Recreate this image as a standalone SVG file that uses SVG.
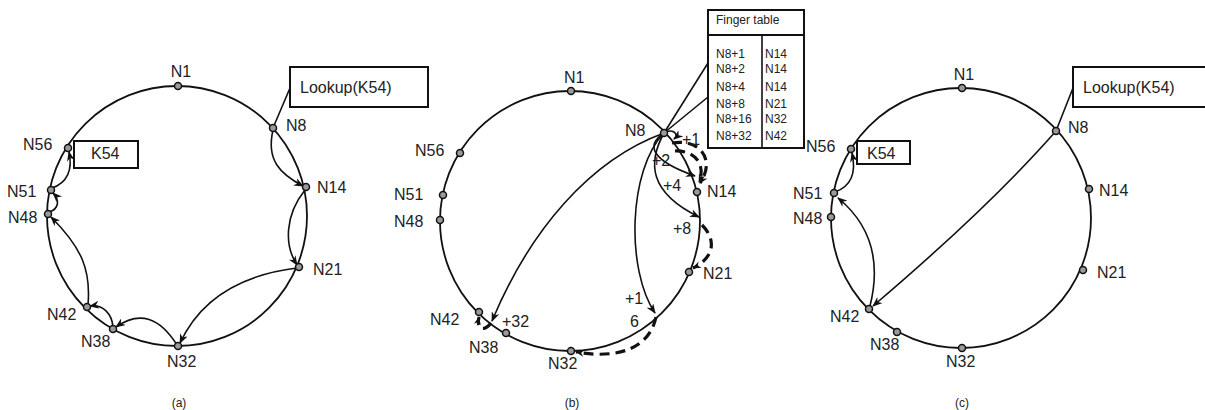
<svg xmlns="http://www.w3.org/2000/svg" width="1205" height="410" viewBox="0 0 1205 410">
<style>
.ring{fill:none;stroke:#111;stroke-width:1.8}
.node{fill:#9a9a9a;stroke:#111;stroke-width:1.5}
.lbl{font-family:"Liberation Sans",Arial,sans-serif;font-size:16px;fill:#222}
.cap{font-family:"Liberation Sans",Arial,sans-serif;font-size:12px;fill:#222}
.sm{font-family:"Liberation Sans",Arial,sans-serif;font-size:12px;fill:#222}
.box{fill:#fff;stroke:#111;stroke-width:2}
.arr{fill:none;stroke:#111;stroke-width:1.6;marker-end:url(#ah)}
.ln{fill:none;stroke:#111;stroke-width:1.6}
.dash{fill:none;stroke:#111;stroke-width:3.2;stroke-dasharray:10 6}
.dasharr{fill:none;stroke:#111;stroke-width:3.2;stroke-dasharray:10 6;marker-end:url(#ah2)}
</style>
<defs>
<marker id="ah" viewBox="0 0 10 8" refX="9" refY="4" markerWidth="10" markerHeight="8" markerUnits="userSpaceOnUse" orient="auto">
<path d="M0,0 L10,4 L0,8 L3,4 Z" fill="#111"/>
</marker>
<marker id="ah2" viewBox="0 0 10 8" refX="9" refY="4" markerWidth="9" markerHeight="7" markerUnits="userSpaceOnUse" orient="auto">
<path d="M0,0 L10,4 L0,8 L3,4 Z" fill="#111"/>
</marker>
</defs>

<!-- Panel (a) -->
<g id="panel-a">
<circle class="ring" cx="177" cy="216" r="130"/>
<g id="a-connectors">
<line class="ln" x1="290" y1="88" x2="273" y2="128"/>
<path class="arr" d="M273,130 C266,160 280,174 303,186"/>
<path class="arr" d="M305,190 C285,215 284,245 297,265"/>
<path class="arr" d="M297,268 C240,275 200,300 180,343"/>
<path class="arr" d="M177,345 C160,318 140,310 116,327"/>
<path class="arr" d="M113,327 C112,314 103,304 90,306"/>
<path class="arr" d="M88,305 C91,270 82,248 51,217"/>
<path class="arr" d="M49,212 C59,209 60,200 53,193"/>
<path class="arr" d="M52,188 C67,183 73,170 69,152"/>
</g>
<g id="a-lookup"><rect class="box" x="290" y="67" width="138" height="40"/><text class="lbl" x="300" y="93">Lookup(K54)</text></g>
<g id="a-k54"><rect class="box" x="74" y="141" width="64" height="27"/><text class="lbl" x="91" y="159">K54</text></g>
<g id="a-N1"><circle class="node" cx="178" cy="86" r="3.5"/><text class="lbl" x="181" y="77" text-anchor="middle">N1</text></g>
<g id="a-N8"><circle class="node" cx="273" cy="128" r="3.5"/><text class="lbl" x="286" y="131">N8</text></g>
<g id="a-N14"><circle class="node" cx="306" cy="187" r="3.5"/><text class="lbl" x="317" y="193">N14</text></g>
<g id="a-N21"><circle class="node" cx="299" cy="267" r="3.5"/><text class="lbl" x="313" y="275">N21</text></g>
<g id="a-N32"><circle class="node" cx="178" cy="346" r="3.5"/><text class="lbl" x="167" y="367">N32</text></g>
<g id="a-N38"><circle class="node" cx="113" cy="329" r="3.5"/><text class="lbl" x="81" y="347">N38</text></g>
<g id="a-N42"><circle class="node" cx="87" cy="307" r="3.5"/><text class="lbl" x="47" y="320">N42</text></g>
<g id="a-N48"><circle class="node" cx="48" cy="214" r="3.5"/><text class="lbl" x="8" y="223">N48</text></g>
<g id="a-N51"><circle class="node" cx="51" cy="190" r="3.5"/><text class="lbl" x="7" y="197">N51</text></g>
<g id="a-N56"><circle class="node" cx="68" cy="148" r="3.5"/><text class="lbl" x="23" y="150">N56</text></g>
<text class="cap" x="179" y="407" text-anchor="middle">(a)</text>
</g>

<!-- Panel (b) -->
<g id="panel-b">
<circle class="ring" cx="570" cy="221" r="130"/>
<g id="b-connectors">
<line class="ln" x1="664" y1="133" x2="708" y2="63"/>
<line class="ln" x1="664" y1="133" x2="708" y2="97"/>
<path class="arr" d="M664,133 C672,128 680,134 674,139"/>
<path class="arr" d="M664,133 C646,145 650,160 695,176"/>
<path class="arr" d="M664,133 C648,162 648,192 699,217"/>
<path class="arr" d="M664,133 C628,170 626,270 655,313"/>
<path class="arr" d="M664,133 C590,160 530,230 492,321"/>
<path class="dasharr" d="M672,143 C700,138 716,160 700,183"/>
<path class="dasharr" d="M675,151 C696,150 706,166 699,182"/>
<path class="dasharr" d="M702,225 C717,240 714,258 693,268"/>
<path class="dasharr" d="M656,317 C650,346 622,360 576,352"/>
<path class="dasharr" d="M491,323 C484,332 476,330 479,317"/>
</g>
<g id="b-finger">
<rect class="box" x="708" y="10" width="96" height="138"/>
<line class="ln" x1="708" y1="35" x2="804" y2="35" style="stroke-width:2"/>
<line class="ln" x1="762" y1="34" x2="762" y2="148"/>
<text class="sm" x="716" y="24">Finger table</text>
<text class="sm" x="716" y="58">N8+1</text><text class="sm" x="765" y="58">N14</text>
<text class="sm" x="716" y="73">N8+2</text><text class="sm" x="765" y="73">N14</text>
<text class="sm" x="716" y="91">N8+4</text><text class="sm" x="765" y="91">N14</text>
<text class="sm" x="716" y="108">N8+8</text><text class="sm" x="765" y="108">N21</text>
<text class="sm" x="716" y="123">N8+16</text><text class="sm" x="765" y="123">N32</text>
<text class="sm" x="716" y="140">N8+32</text><text class="sm" x="765" y="140">N42</text>
</g>
<g id="b-N1"><circle class="node" cx="571" cy="91" r="3.5"/><text class="lbl" x="564" y="83">N1</text></g>
<g id="b-N8"><circle class="node" cx="664" cy="133" r="3.5"/><text class="lbl" x="625" y="136">N8</text></g>
<g id="b-N14"><circle class="node" cx="697" cy="192" r="3.5"/><text class="lbl" x="707" y="197">N14</text></g>
<g id="b-N21"><circle class="node" cx="689" cy="272" r="3.5"/><text class="lbl" x="703" y="279">N21</text></g>
<g id="b-N32"><circle class="node" cx="571" cy="351" r="3.5"/><text class="lbl" x="548" y="369">N32</text></g>
<g id="b-N38"><circle class="node" cx="506" cy="333" r="3.5"/><text class="lbl" x="469" y="353">N38</text></g>
<g id="b-N42"><circle class="node" cx="479" cy="312" r="3.5"/><text class="lbl" x="430" y="325">N42</text></g>
<g id="b-N48"><circle class="node" cx="440" cy="220" r="3.5"/><text class="lbl" x="394" y="227">N48</text></g>
<g id="b-N51"><circle class="node" cx="443" cy="195" r="3.5"/><text class="lbl" x="394" y="200">N51</text></g>
<g id="b-N56"><circle class="node" cx="460" cy="153" r="3.5"/><text class="lbl" x="415" y="156">N56</text></g>
<text class="lbl" x="682" y="145">+1</text>
<text class="lbl" x="652" y="166">+2</text>
<text class="lbl" x="663" y="191">+4</text>
<text class="lbl" x="673" y="234">+8</text>
<text class="lbl" x="625" y="304">+1</text>
<text class="lbl" x="630" y="327">6</text>
<text class="lbl" x="502" y="327">+32</text>
<text class="cap" x="572" y="407" text-anchor="middle">(b)</text>
</g>

<!-- Panel (c) -->
<g id="panel-c">
<circle class="ring" cx="961" cy="218" r="130"/>
<g id="c-connectors">
<line class="ln" x1="1073" y1="88" x2="1056" y2="131"/>
<path class="arr" d="M1056,131 C1020,172 960,232 873,306"/>
<path class="arr" d="M870,306 C879,270 877,230 838,198"/>
<path class="arr" d="M835,192 C849,187 857,175 852,153"/>
</g>
<g id="c-lookup"><rect class="box" x="1073" y="67" width="145" height="40"/><text class="lbl" x="1083" y="93">Lookup(K54)</text></g>
<g id="c-k54"><rect class="box" x="857" y="141" width="53" height="23"/><text class="lbl" x="867" y="159">K54</text></g>
<g id="c-N1"><circle class="node" cx="962" cy="88" r="3.5"/><text class="lbl" x="964" y="80" text-anchor="middle">N1</text></g>
<g id="c-N8"><circle class="node" cx="1056" cy="131" r="3.5"/><text class="lbl" x="1068" y="133">N8</text></g>
<g id="c-N14"><circle class="node" cx="1089" cy="189" r="3.5"/><text class="lbl" x="1099" y="196">N14</text></g>
<g id="c-N21"><circle class="node" cx="1083" cy="270" r="3.5"/><text class="lbl" x="1097" y="278">N21</text></g>
<g id="c-N32"><circle class="node" cx="962" cy="348" r="3.5"/><text class="lbl" x="946" y="367">N32</text></g>
<g id="c-N38"><circle class="node" cx="897" cy="332" r="3.5"/><text class="lbl" x="870" y="350">N38</text></g>
<g id="c-N42"><circle class="node" cx="869" cy="309" r="3.5"/><text class="lbl" x="830" y="322">N42</text></g>
<g id="c-N48"><circle class="node" cx="831" cy="217" r="3.5"/><text class="lbl" x="793" y="224">N48</text></g>
<g id="c-N51"><circle class="node" cx="834" cy="193" r="3.5"/><text class="lbl" x="793" y="199">N51</text></g>
<g id="c-N56"><circle class="node" cx="851" cy="149" r="3.5"/><text class="lbl" x="806" y="152">N56</text></g>
<text class="cap" x="962" y="407" text-anchor="middle">(c)</text>
</g>
</svg>
